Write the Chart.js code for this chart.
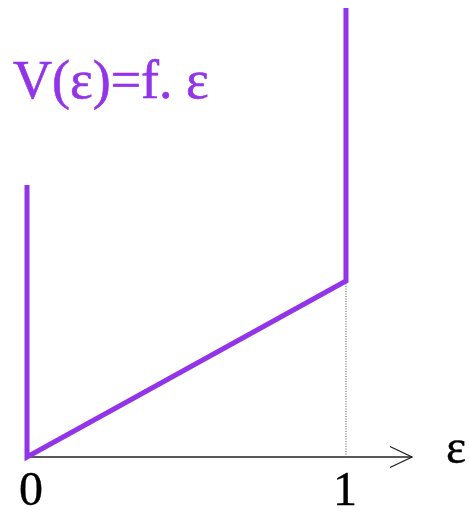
<!DOCTYPE html>
<html>
<head>
<meta charset="utf-8">
<script src="https://cdn.jsdelivr.net/npm/chart.js@4"></script>
<style>
html,body{margin:0;padding:0;background:#fff;}
#wrap{width:469px;height:510px;position:relative;}
#pre{position:absolute;left:-9999px;top:0;font-family:"Liberation Serif";font-size:52px;}
</style>
</head>
<body>
<div id="pre">V(ε)=f. ε 01</div>
<div id="wrap"><canvas id="c"></canvas></div>
<script>
// Data
const epsValues = [0, 0, 1, 1];
const vValues = [0.606, 0, 0.392, 1.0];
const tickValues = [0, 1];
const tickLabels = ['0', '1'];
const axisX = [0, 1.207];
const axisY = [0, 0];
const arrowX = [1.138, 1.207, 1.138];
const arrowY = [0.0234, 0, -0.0234];
const guideX = [1, 1];
const guideY = [0.392, 0];
const titleText = 'V(ε)=f. ε';
const axisName = 'ε';

const purple = '#9234E8';
const serif = '"Liberation Serif", "Times New Roman", Times, serif';
const toPts = (xs, ys) => xs.map((x, i) => ({x: x, y: ys[i]}));

const labelPlugin = {
  id: 'labels',
  afterDraw(chart) {
    const ctx = chart.ctx;
    const xs = chart.scales.x, ys = chart.scales.y;
    ctx.save();
    ctx.fillStyle = purple;
    ctx.strokeStyle = purple;
    ctx.lineWidth = 0.6;
    ctx.font = '54px ' + serif;
    ctx.textAlign = 'left';
    ctx.textBaseline = 'alphabetic';
    ctx.fillText(titleText, 13, 98);
    ctx.strokeText(titleText, 13, 98);
    ctx.fillStyle = '#000';
    ctx.strokeStyle = '#000';
    ctx.lineWidth = 0.4;
    ctx.font = '48px ' + serif;
    ctx.textAlign = 'center';
    tickValues.forEach((v, i) => {
      const px = xs.getPixelForValue(v) + (i === 0 ? 4 : -1);
      const py = ys.getPixelForValue(0) + 48;
      ctx.fillText(tickLabels[i], px, py);
      ctx.strokeText(tickLabels[i], px, py);
    });
    ctx.textAlign = 'left';
    ctx.fillText(axisName, 446, 463);
    ctx.strokeText(axisName, 446, 463);
    ctx.restore();
  }
};

function build() {
  new Chart(document.getElementById('c'), {
    type: 'scatter',
    data: {
      datasets: [
        {data: toPts(epsValues, vValues), showLine: true, borderColor: purple, borderWidth: 5,
         pointRadius: 0, borderJoinStyle: 'miter', borderCapStyle: 'butt', clip: false, order: 0, tension: 0},
        {data: toPts(axisX, axisY), showLine: true, borderColor: '#222', borderWidth: 1.5,
         pointRadius: 0, clip: false, order: 2},
        {data: toPts(arrowX, arrowY), showLine: true, borderColor: '#222', borderWidth: 1.3,
         pointRadius: 0, clip: false, order: 2, borderJoinStyle: 'miter'},
        {data: toPts(guideX, guideY), showLine: true, borderColor: '#555', borderWidth: 1,
         borderDash: [1, 1.5], pointRadius: 0, clip: false, order: 1}
      ]
    },
    options: {
      responsive: true,
      maintainAspectRatio: false,
      animation: false,
      layout: {padding: {left: 27, right: 57, top: 8, bottom: 53}},
      plugins: {legend: {display: false}, tooltip: {enabled: false}},
      scales: {
        x: {type: 'linear', min: 0, max: 1.207, display: false},
        y: {type: 'linear', min: 0, max: 1, display: false}
      }
    },
    plugins: [labelPlugin]
  });
}
if (document.fonts && document.fonts.load) {
  document.fonts.load('52px "Liberation Serif"').then(build, build);
} else {
  build();
}
</script>
</body>
</html>
